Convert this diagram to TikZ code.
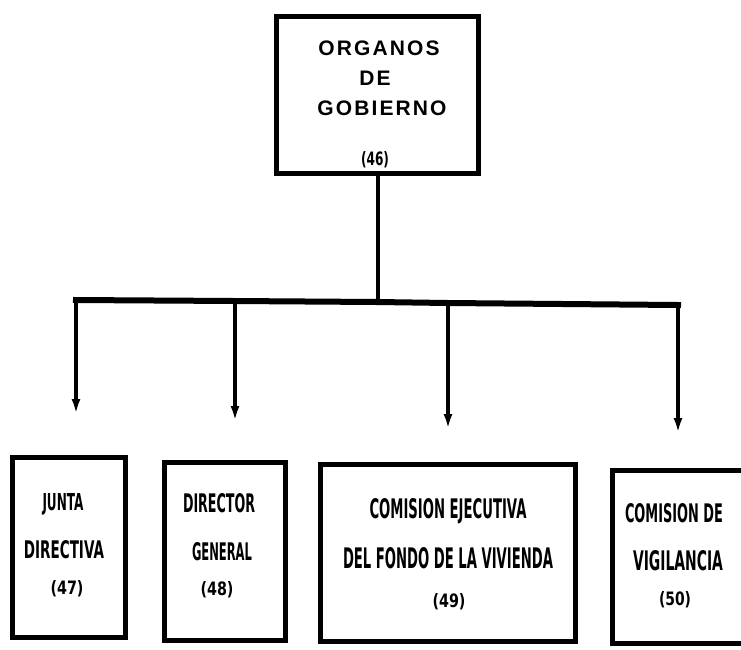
\documentclass[tikz,border=0pt]{standalone}
\usepackage{fontspec}
\usepackage{graphicx}
\setmainfont{Liberation Sans}
\usetikzlibrary{arrows.meta}
\newfontfamily\topfont[LetterSpace=10]{Liberation Sans Bold}
\newfontfamily\numfont{DejaVu Sans Bold}
\newcommand{\cond}[3]{\resizebox{#1pt}{#2pt}{\numfont #3}}
\tikzset{
  box/.style={draw=black, line width=5pt, rectangle, inner sep=0pt},
  lbl/.style={anchor=base, inner sep=0pt, text=black},
  conn/.style={draw=black, line width=4pt},
  bar/.style={draw=black, line width=6pt, line cap=rect},
  arr/.style={conn, -{Latex[length=15pt,width=9pt]}}
}
\begin{document}
\begin{tikzpicture}[x=1pt,y=-1pt]
\useasboundingbox (0,0) rectangle (741,649);
% boxes
\node[box, minimum width=202pt, minimum height=157pt] (top) at (377.5,95) {};
\node[box, minimum width=113pt, minimum height=180pt] (b1) at (69,547.5) {};
\node[box, minimum width=121pt, minimum height=178pt] (b2) at (225,551.5) {};
\node[box, minimum width=255pt, minimum height=177pt] (b3) at (448,553) {};
\node[box, minimum width=145pt, minimum height=173pt] (b4) at (685,557) {};
% top labels
\node[lbl] (t1) at (379,55) {\topfont\fontsize{21}{21}\selectfont ORGANOS};
\node[lbl] (t2) at (375,85) {\topfont\fontsize{21}{21}\selectfont DE};
\node[lbl] (t3) at (382,115) {\topfont\fontsize{21}{21}\selectfont GOBIERNO};
\node[lbl] (t4) at (375,165) {\cond{28}{14}{(46)}};
% box 1
\node[lbl] (l11) at (63,510) {\cond{41}{17}{JUNTA}};
\node[lbl] (l12) at (64,558) {\cond{80}{18}{DIRECTIVA}};
\node[lbl] (l13) at (67,594) {\cond{33}{14}{(47)}};
% box 2
\node[lbl] (l21) at (219,512) {\cond{72}{19}{DIRECTOR}};
\node[lbl] (l22) at (222,560) {\cond{60}{18}{GENERAL}};
\node[lbl] (l23) at (217,595) {\cond{33}{14}{(48)}};
% box 3
\node[lbl] (l31) at (448,518) {\cond{157}{20}{COMISION EJECUTIVA}};
\node[lbl] (l32) at (448,568) {\cond{210}{21}{DEL FONDO DE LA VIVIENDA}};
\node[lbl] (l33) at (449,607) {\cond{33}{14}{(49)}};
% box 4
\node[lbl] (l41) at (674,522) {\cond{98}{19}{COMISION DE}};
\node[lbl] (l42) at (678,570) {\cond{90}{20}{VIGILANCIA}};
\node[lbl] (l43) at (675,605) {\cond{32}{14}{(50)}};
% connectors
\coordinate (j) at (377.5,302);
\coordinate (d1) at (76,300);
\coordinate (d2) at (235,301);
\coordinate (d3) at (448,303);
\coordinate (d4) at (678,305);
\coordinate (e1) at (76,414);
\coordinate (e2) at (235,421);
\coordinate (e3) at (448,429);
\coordinate (e4) at (678,433);
\draw[conn] (top.south) -- (j);
\draw[bar] (d1) -- (d2) -- (j) -- (d3) -- (d4);
\draw[arr] (d1) -- (e1);
\draw[arr] (d2) -- (e2);
\draw[arr] (d3) -- (e3);
\draw[arr] (d4) -- (e4);
\end{tikzpicture}
\end{document}
